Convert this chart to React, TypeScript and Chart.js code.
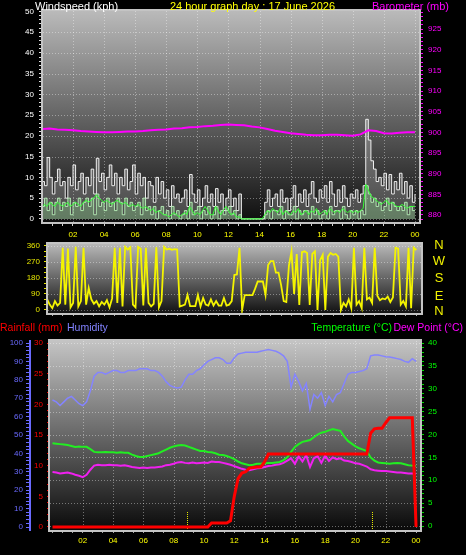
import React, { useEffect, useRef } from 'react';
import { Chart, registerables } from 'chart.js';

Chart.register(...registerables);

const FONT = "'Liberation Sans', Arial, sans-serif";

// ---------------- data ----------------
// wind: one sample every 10 minutes, 00:00 .. 24:00
const windStepMinutes = 10;
const windGust = [
  9, 8, 14.8, 10, 6, 9,
  12, 8, 9, 5, 10, 8,
  13, 7, 9, 11, 6, 10,
  8, 12, 6, 14.6, 9, 11,
  7, 10, 13, 8, 11, 6,
  10, 8, 12, 7, 9, 13,
  6, 11, 8, 10, 5, 9,
  8, 4, 10, 6, 9, 5,
  7, 3, 8, 5, 6, 4,
  5, 7, 3, 10.7, 6, 4,
  7, 3, 5, 8, 4, 6,
  3, 7.3, 4, 6, 2, 5,
  7, 3, 5, 2, 6, 0,
  0, 0, 0, 0, 0, 0,
  0, 0, 4, 7, 3, 5,
  6, 3, 7, 4, 5, 2,
  5, 8, 3, 6, 4, 7,
  3, 6, 9, 5, 4, 7,
  5, 8, 4, 9, 6, 3,
  7, 4, 8, 5, 3, 6,
  5, 7, 4, 6, 8, 24,
  19, 14, 12, 9, 10, 8,
  11, 7, 10.7, 6, 9, 7,
  11, 6, 9, 5, 8, 4,
  6,
];
const windSpeed = [
  3, 5, 2, 4, 1, 4,
  5, 2, 4, 3, 5, 1,
  4, 3, 5, 2, 4, 5,
  3, 5, 1, 6, 3, 4,
  2, 5, 3, 4, 2, 5,
  4, 1, 5, 3, 4, 2,
  3, 4, 1, 5, 2, 3,
  1, 3, 0, 2, 3, 1,
  2, 0, 3, 1, 2, 0,
  1, 2, 0, 4, 1, 2,
  3, 0, 2, 1, 3, 0,
  1, 3, 0, 2, 1, 2,
  3, 1, 2, 0, 1, 0,
  0, 0, 0, 0, 0, 0,
  0, 0, 1, 2, 0, 2,
  2, 1, 3, 0, 2, 1,
  1, 3, 0, 2, 1, 2,
  2, 0, 3, 1, 2, 0,
  1, 2, 0, 3, 1, 2,
  2, 0, 3, 1, 0, 2,
  1, 2, 0, 2, 1, 8,
  6, 4, 5, 3, 4, 2,
  3, 5, 2, 4, 3, 2,
  3, 2, 4, 1, 3, 2,
  2,
];
const windAverage = [
  3, 3.5, 3, 4, 3.5, 3,
  4, 3.5, 3, 3.5, 4, 3,
  3.5, 4, 3.5, 3, 4, 4.5,
  4, 4.5, 5, 5.8, 5, 4.5,
  4, 4.5, 4, 3.5, 4, 4.5,
  4, 3.5, 4, 3.5, 3, 3.5,
  3, 3.5, 3, 2.5, 3, 2.5,
  2, 2.5, 1.5, 2, 1.5, 1,
  1, 0.5, 1, 1.5, 1, 0.5,
  1, 1.5, 1, 3, 2, 1,
  1.5, 1, 2, 3, 2, 1,
  1, 3, 2, 1, 2, 3,
  2, 1, 1.5, 0.5, 0.5, 0,
  0, 0, 0, 0, 0, 0,
  0, 0, 1, 2, 1.5, 2.5,
  2, 1.5, 2.5, 1, 2, 1.5,
  1, 2, 1.5, 2.5, 1, 1.5,
  2, 1, 2, 1.5, 2.5, 1,
  1.5, 2, 1, 2.5, 2, 1.5,
  2, 1.5, 2.5, 2, 1.5, 2,
  1.5, 2, 1.5, 2, 2.5, 8.3,
  7, 5.5, 5, 4.5, 4, 3.5,
  4, 4.5, 3.5, 4, 3.5, 3,
  3, 3.5, 3, 2.5, 3, 3,
  3,
];
const windDirection = [
  45, 20, 60, 30, 10, 50,
  25, 40, 350, 30, 345, 15,
  40, 355, 20, 50, 350, 30,
  124, 60, 35, 50, 20, 45,
  30, 55, 15, 65, 350, 40,
  350, 20, 355, 340, 352, 30,
  15, 355, 345, 25, 350, 40,
  20, 35, 352, 15, 50, 355,
  340, 345, 338, 342, 340, 20,
  25, 30, 84, 22, 22, 22,
  84, 20, 67, 30, 25, 60,
  25, 50, 25, 25, 67, 25,
  30, 50, 197, 200, 350, 0,
  84, 84, 84, 84, 120, 160,
  160, 160, 84, 253, 275, 275,
  210, 210, 140, 50, 45, 250,
  330, 90, 315, 28, 325, 330,
  320, 28, 315, 330, 0, 280,
  310, 0, 300, 320, 310, 315,
  300, 0, 40, 20, 60, 10,
  350, 30, 50, 10, 350, 60,
  70, 40, 350, 80, 55, 65,
  60, 75, 45, 70, 350, 345,
  30, 50, 20, 350, 10, 350,
  337,
];
// barometer: one sample every 30 minutes
const baroStepMinutes = 30;
const barometer = [
  900.8, 900.9, 900.7, 900.6, 900.5, 900.3, 900.2, 900.1,
  900.0, 900.0, 900.1, 900.2, 900.2, 900.3, 900.5, 900.6,
  900.7, 900.9, 901.0, 901.2, 901.3, 901.5, 901.6, 901.8,
  901.9, 901.8, 901.7, 901.4, 901.2, 900.8, 900.4, 900.1,
  899.8, 899.6, 899.4, 899.3, 899.3, 899.4, 899.4, 899.3,
  899.2, 899.5, 900.5, 900.3, 899.8, 899.7, 899.9, 900.0,
  900.0,
];
// climate: one sample every 15 minutes
const climateStepMinutes = 15;
const humidity = [
  69, 68, 66, 68,
  70, 71, 69, 67,
  66, 68, 74, 82,
  84, 84, 83, 84,
  85, 85, 84, 84,
  85, 85, 85, 86,
  86, 86, 85, 85,
  84, 82, 79, 77,
  76, 75.5, 76, 80,
  83, 83, 85, 86,
  88, 90, 91, 92,
  92, 91, 89, 89,
  92, 94, 94.5, 95,
  95, 95, 95, 95.5,
  96, 96.5, 96, 95.5,
  94.5, 93, 90, 76,
  83, 79, 74, 78,
  64, 72, 70, 73,
  66, 71, 68, 72,
  73, 78, 83, 84,
  84, 84.5, 85, 86,
  93, 93.5, 93.5, 93,
  92.5, 92.4, 92, 91.5,
  91, 90, 89.5, 91.5,
  90,
];
const temperature = [
  18.1, 18.0, 17.9, 17.8,
  17.7, 17.5, 17.3, 17.4,
  17.3, 17.3, 16.8, 16.2,
  16.1, 16.1, 16.2, 16.1,
  16.1, 16.0, 16.1, 16.0,
  16.0, 15.6, 15.3, 15.1,
  15.1, 15.3, 15.5, 15.7,
  15.9, 16.3, 16.7, 17.1,
  17.4, 17.6, 17.7, 17.6,
  17.3, 17.0, 16.7, 16.4,
  16.4, 16.2, 16.1, 15.9,
  15.6, 15.5, 15.3, 15.0,
  14.6, 14.1, 13.7, 13.5,
  13.3, 13.4, 13.6, 13.6,
  13.7, 13.8, 13.8, 13.9,
  14.0, 14.4, 15.0, 16.2,
  17.3, 17.9, 18.4, 18.6,
  18.8, 19.4, 20.0, 20.4,
  20.6, 20.9, 21.2, 21.0,
  20.8, 19.6, 18.6, 18.0,
  17.4, 17.0, 16.7, 16.4,
  15.0, 14.3, 13.9, 13.8,
  13.7, 13.6, 13.7, 13.8,
  13.7, 13.5, 13.3, 13.2,
  13.1,
];
const dewPoint = [
  11.8, 11.7, 11.5, 11.6,
  11.7, 11.5, 11.2, 11.0,
  10.7, 11.2, 12.3, 13.2,
  13.4, 13.3, 13.3, 13.4,
  13.3, 13.3, 13.2, 13.3,
  13.1, 12.9, 12.8, 12.7,
  12.8, 12.7, 12.8, 12.8,
  12.9, 13.0, 13.3, 13.4,
  13.6, 13.9, 14.0, 13.8,
  13.7, 13.9, 13.7, 13.8,
  13.9, 13.8, 14.1, 14.0,
  14.0, 13.8, 13.6, 13.4,
  13.1, 12.8, 12.5, 12.3,
  12.2, 12.4, 12.6, 12.7,
  12.9, 13.1, 13.2, 13.4,
  13.5, 13.8, 14.3, 14.8,
  13.6, 15.2, 14.1, 15.5,
  12.9, 14.8, 15.3, 13.8,
  15.4, 14.2, 15.0, 14.6,
  14.8, 14.3, 14.2, 14.0,
  13.7, 13.6, 13.3, 13.0,
  12.4, 12.2, 12.1, 12.0,
  12.0, 11.9, 11.8, 11.7,
  11.7, 11.6, 11.5, 11.5,
  11.4,
];
const rainfall = [
  0, 0, 0, 0,
  0, 0, 0, 0,
  0, 0, 0, 0,
  0, 0, 0, 0,
  0, 0, 0, 0,
  0, 0, 0, 0,
  0, 0, 0, 0,
  0, 0, 0, 0,
  0, 0, 0, 0,
  0, 0, 0, 0,
  0, 0, 0.65, 0.65,
  0.65, 0.65, 0.65, 1.0,
  5.0, 7.9, 8.8, 9.0,
  9.6, 9.7, 9.8, 9.8,
  10.6, 11.9, 11.9, 11.9,
  11.9, 11.9, 11.9, 11.9,
  11.9, 11.9, 11.9, 11.9,
  11.9, 11.9, 11.9, 11.9,
  11.9, 11.9, 11.9, 11.9,
  11.9, 11.9, 11.9, 11.9,
  11.9, 11.9, 11.9, 11.9,
  15.3, 16.0, 16.1, 16.1,
  17.0, 17.8, 17.8, 17.8,
  17.8, 17.8, 17.8, 17.8,
  0,
];
const rainMarkHours = [8.9, 21.1];

// ticks / labels
const hourTicks = [2, 4, 6, 8, 10, 12, 14, 16, 18, 20, 22, 24];
const hourTickLabels = ['02', '04', '06', '08', '10', '12', '14', '16', '18', '20', '22', '00'];
const windSpeedTicks = [0, 5, 10, 15, 20, 25, 30, 35, 40, 45, 50];
const baroTicks = [880, 885, 890, 895, 900, 905, 910, 915, 920, 925];
const directionTicks = [0, 90, 180, 270, 360];
const humidityTicks = [0, 10, 20, 30, 40, 50, 60, 70, 80, 90, 100];
const rainTicks = [0, 5, 10, 15, 20, 25, 30];
const tempTicks = [0, 5, 10, 15, 20, 25, 30, 35, 40];
const compassLabels = ['N', 'W', 'S', 'E', 'N'];

// ---------------- helpers ----------------
const series = (values: number[], stepMinutes: number) =>
  values.map((y, i) => ({ x: (i * stepMinutes) / 60, y }));

const range = (from: number, to: number, step: number) => {
  const out: number[] = [];
  for (let k = 0; from + k * step <= to + 1e-9; k++) out.push(Math.round((from + k * step) * 1000) / 1000);
  return out;
};

function axis(o: any) {
  const horizontal = o.position === 'top' || o.position === 'bottom';
  return {
    type: 'linear',
    position: o.position,
    min: o.min,
    max: o.max,
    weight: o.weight || 0,
    afterBuildTicks: (s: any) => {
      s.ticks = o.minor.filter((v: number) => v >= o.min - 1e-6 && v <= o.max + 1e-6).map((v: number) => ({ value: v }));
    },
    afterFit: (s: any) => {
      if (horizontal) s.height = o.size;
      else s.width = o.size;
      s.paddingTop = 0;
      s.paddingBottom = 0;
      s.paddingLeft = 0;
      s.paddingRight = 0;
    },
    grid: {
      display: true,
      drawOnChartArea: false,
      drawTicks: true,
      tickLength: o.tickLength,
      tickColor: o.tickColor,
      tickWidth: 1,
    },
    border: o.border ? { display: true, color: o.border.color, width: o.border.width } : { display: false },
    ticks: {
      display: o.showLabels !== false,
      autoSkip: false,
      maxRotation: 0,
      minRotation: 0,
      padding: o.padding,
      color: o.color,
      font: { family: FONT, size: o.fontSize || 8 },
      callback: (v: number) => {
        const k = o.major.findIndex((m: number) => Math.abs(m - v) < 0.01);
        if (k < 0) return '';
        return o.labels ? o.labels[k] : String(o.major[k]);
      },
    },
  };
}

function panelPlugin(cfg: any) {
  return {
    id: 'panel',
    beforeDraw(chart: any) {
      const { ctx, chartArea: a, width, height } = chart;
      ctx.save();
      ctx.fillStyle = '#000';
      ctx.fillRect(0, 0, width, height);
      const g = ctx.createLinearGradient(0, a.top, 0, a.bottom);
      g.addColorStop(0, cfg.top);
      g.addColorStop(1, cfg.bottom);
      ctx.fillStyle = g;
      ctx.fillRect(a.left, a.top, a.right - a.left, a.bottom - a.top);
      ctx.restore();
    },
    beforeDatasetsDraw(chart: any) {
      const { ctx, chartArea: a } = chart;
      ctx.save();
      ctx.lineWidth = 1;
      ctx.strokeStyle = 'rgba(255,255,255,0.38)';
      ctx.setLineDash([1, 2]);
      (cfg.hLines || []).forEach((h: any) => {
        const sc = chart.scales[h.axis];
        h.values.forEach((v: number) => {
          const y = Math.round(sc.getPixelForValue(v)) + 0.5;
          if (y <= a.top + 1 || y >= a.bottom - 1) return;
          ctx.beginPath();
          ctx.moveTo(a.left, y);
          ctx.lineTo(a.right, y);
          ctx.stroke();
        });
      });
      (cfg.vLines || []).forEach((h: any) => {
        const sc = chart.scales[h.axis];
        h.values.forEach((v: number) => {
          const x = Math.round(sc.getPixelForValue(v)) + 0.5;
          if (x <= a.left + 1 || x >= a.right - 1) return;
          ctx.beginPath();
          ctx.moveTo(x, a.top);
          ctx.lineTo(x, a.bottom);
          ctx.stroke();
        });
      });
      if (cfg.marks) {
        const sc = chart.scales.x;
        ctx.strokeStyle = '#e8e800';
        ctx.setLineDash([1, 1]);
        cfg.marks.forEach((v: number) => {
          const x = Math.round(sc.getPixelForValue(v)) + 0.5;
          ctx.beginPath();
          ctx.moveTo(x, a.bottom - 18);
          ctx.lineTo(x, a.bottom);
          ctx.stroke();
        });
      }
      ctx.setLineDash([]);
      ctx.strokeStyle = '#c4c4c4';
      ctx.lineWidth = 2;
      ctx.strokeRect(a.left - 1, a.top - 1, a.right - a.left + 2, a.bottom - a.top + 2);
      ctx.restore();
    },
  };
}

const baseOptions = (padding: any) => ({
  responsive: false,
  maintainAspectRatio: false,
  animation: false,
  devicePixelRatio: 1,
  events: [],
  layout: { padding },
  plugins: { legend: { display: false }, tooltip: { enabled: false }, title: { display: false }, filler: { propagate: false } },
  elements: { point: { radius: 0 }, line: { tension: 0 } },
});

const line = (data: any, color: string, width: number, yAxisID: string, extra: any = {}) => ({
  data,
  borderColor: color,
  backgroundColor: color,
  borderWidth: width,
  pointRadius: 0,
  fill: false,
  yAxisID,
  ...extra,
});

function windConfig() {
  return {
    type: 'line',
    data: {
      datasets: [
        line(series(barometer, baroStepMinutes), '#ff00ff', 2, 'yBaro'),
        line(series(windAverage, windStepMinutes), '#33ff33', 1, 'y'),
        line(series(windSpeed, windStepMinutes), 'rgba(190,250,190,0.85)', 1, 'y', { stepped: true, fill: 'origin', backgroundColor: 'rgba(150,220,150,0.35)' }),
        line(series(windGust, windStepMinutes), 'rgba(248,248,248,0.95)', 1, 'y', { stepped: true, fill: 'origin', backgroundColor: 'rgba(215,215,215,0.28)' }),
      ],
    },
    options: {
      ...baseOptions({ top: 11, left: 0, right: 0, bottom: 0 }),
      scales: {
        x: axis({ position: 'bottom', min: 0.07, max: 24.26, minor: range(0, 24, 2 / 3), major: hourTicks, labels: hourTickLabels, color: '#ffff00', tickColor: '#d0d0d0', tickLength: 4, padding: 4, size: 18 }),
        y: axis({ position: 'left', min: -0.75, max: 50.1, minor: range(0, 50, 1), major: windSpeedTicks, color: '#ffffff', tickColor: '#e0e0e0', tickLength: 4, padding: 5, size: 43 }),
        yBaro: axis({ position: 'right', min: 878.3, max: 929.36, minor: range(879, 929, 1), major: baroTicks, color: '#ff00ff', tickColor: '#ff00ff', tickLength: 4, padding: 5, size: 47 }),
      },
    },
    plugins: [panelPlugin({ top: '#bababa', bottom: '#0e0e0e', hLines: [{ axis: 'y', values: windSpeedTicks }], vLines: [{ axis: 'x', values: hourTicks }] })],
  };
}

function directionConfig() {
  return {
    type: 'line',
    data: {
      datasets: [line(series(windDirection, windStepMinutes), '#f4f400', 1.8, 'y')],
    },
    options: {
      ...baseOptions({ top: 4, left: 0, right: 45, bottom: 0 }),
      scales: {
        x: axis({ position: 'bottom', min: 0.39, max: 24.3, minor: range(0, 24, 2 / 3), major: [], showLabels: false, color: '#ffff00', tickColor: '#b0b0b0', tickLength: 3, padding: 0, size: 7 }),
        y: axis({ position: 'left', min: -17, max: 371, minor: range(0, 360, 30), major: directionTicks, color: '#e4e400', tickColor: '#e4e400', tickLength: 4, padding: 4, size: 48 }),
      },
    },
    plugins: [panelPlugin({ top: '#b8b8b8', bottom: '#121212', hLines: [{ axis: 'y', values: directionTicks }] })],
  };
}

function climateConfig() {
  return {
    type: 'line',
    data: {
      datasets: [
        line(series(rainfall, climateStepMinutes), '#ff0000', 3, 'yRain'),
        line(series(temperature, climateStepMinutes), '#22ee22', 2, 'yTemp'),
        line(series(dewPoint, climateStepMinutes), '#f020f0', 2, 'yTemp'),
        line(series(humidity, climateStepMinutes), '#8484ff', 1.5, 'yHum'),
      ],
    },
    options: {
      ...baseOptions({ top: 21, left: 0, right: 0, bottom: 0 }),
      scales: {
        x: axis({ position: 'bottom', min: -0.165, max: 24.26, minor: range(0, 24, 2 / 3), major: hourTicks, labels: hourTickLabels, color: '#ffff00', tickColor: '#a8a8a8', tickLength: 3, padding: 3, size: 25 }),
        yHum: axis({ position: 'left', weight: 1, min: -1.63, max: 101.09, minor: range(0, 100, 2), major: humidityTicks, color: '#6a6aff', tickColor: '#6a6aff', tickLength: 4, padding: 3, size: 30, border: { color: '#6a6aff', width: 2 } }),
        yRain: axis({ position: 'left', weight: 0, min: -0.49, max: 30.33, minor: range(0, 30, 1), major: rainTicks, color: '#ff0000', tickColor: '#ff0000', tickLength: 3, padding: 4, size: 20 }),
        yTemp: axis({ position: 'right', min: -0.87, max: 40.44, minor: range(0, 40, 1), major: tempTicks, color: '#00ff00', tickColor: '#00dd00', tickLength: 4, padding: 4, size: 46 }),
      },
    },
    plugins: [panelPlugin({ top: '#c4c4c4', bottom: '#0a0a0a', hLines: [{ axis: 'yTemp', values: tempTicks }], vLines: [{ axis: 'x', values: hourTicks }], marks: rainMarkHours })],
  };
}

const compassTops = [238, 254, 271, 289, 304];

export default function App() {
  const windRef = useRef<HTMLCanvasElement | null>(null);
  const dirRef = useRef<HTMLCanvasElement | null>(null);
  const climateRef = useRef<HTMLCanvasElement | null>(null);

  useEffect(() => {
    const charts = [
      new Chart(windRef.current as HTMLCanvasElement, windConfig() as any),
      new Chart(dirRef.current as HTMLCanvasElement, directionConfig() as any),
      new Chart(climateRef.current as HTMLCanvasElement, climateConfig() as any),
    ];
    return () => charts.forEach((c) => c.destroy());
  }, []);

  const txt = (style: any): any => ({
    position: 'absolute',
    whiteSpace: 'nowrap',
    fontFamily: FONT,
    fontSize: 11,
    lineHeight: '12px',
    ...style,
  });

  return (
    <div style={{ position: 'absolute', left: 0, top: 0, width: 466, height: 555, background: '#000', overflow: 'hidden' }}>
      <canvas ref={windRef} width={466} height={240} style={{ position: 'absolute', left: 0, top: 0, width: 466, height: 240 }} />
      <canvas ref={dirRef} width={466} height={80} style={{ position: 'absolute', left: 0, top: 240, width: 466, height: 80 }} />
      <canvas ref={climateRef} width={466} height={235} style={{ position: 'absolute', left: 0, top: 320, width: 466, height: 235 }} />

      <div style={txt({ left: 35, top: 0, color: '#ffffff' })}>Windspeed (kph)</div>
      <div style={txt({ left: 142, width: 221, top: 0, textAlign: 'center', color: '#ffff00' })}>24 hour graph day : 17 June 2026</div>
      <div style={txt({ left: 372, top: 0, color: '#ff00ff' })}>Barometer (mb)</div>

      {compassLabels.map((c, i) => (
        <div key={i} style={txt({ left: 431, width: 16, top: compassTops[i], textAlign: 'center', color: '#f0f000', fontSize: 13, lineHeight: '13px' })}>{c}</div>
      ))}

      <div style={txt({ left: 0, top: 321, color: '#ff0000', fontSize: 10.5 })}>Rainfall (mm)</div>
      <div style={txt({ left: 67, top: 321, color: '#8282ff', fontSize: 10.5 })}>Humidity</div>
      <div style={txt({ right: 74, top: 321, color: '#00ff00', fontSize: 10.5 })}>Temperature (°C)</div>
      <div style={txt({ right: 3, top: 321, color: '#ff00ff', fontSize: 10.5 })}>Dew Point (°C)</div>
    </div>
  );
}
